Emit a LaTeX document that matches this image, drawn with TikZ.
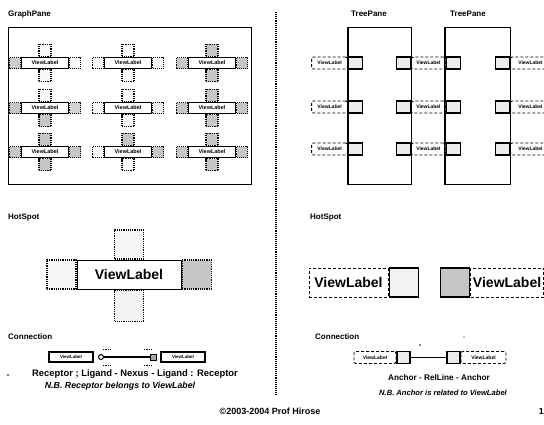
\documentclass[tikz,border=0pt]{standalone}
\usepackage{fontspec}
\setmainfont{Liberation Sans}
\begin{document}
\begin{tikzpicture}[x=1pt,y=-1pt,
  title/.style={font=\bfseries\fontsize{8}{9}\selectfont, inner sep=0pt},
  note/.style={font=\bfseries\fontsize{8.8}{9}\selectfont, inner sep=0pt},
  noteit/.style={font=\bfseries\itshape\fontsize{8.8}{9}\selectfont, inner sep=0pt},
  lbl/.style={draw, line width=1.1pt, fill=white, inner sep=0pt, minimum width=47pt, minimum height=11pt, font=\bfseries\fontsize{5.5}{6}\selectfont},
  hs/.style={draw, densely dotted, line width=1.1pt, inner sep=0pt, minimum width=11pt, minimum height=11pt},
  hsv/.style={draw, densely dotted, line width=1.1pt, inner sep=0pt, minimum width=12pt, minimum height=12pt},
  pane/.style={draw, line width=1pt, inner sep=0pt},
  dlbl/.style={draw, densely dashed, line width=0.9pt, rounded corners=2pt, fill=white, inner sep=0pt, minimum height=12pt, font=\bfseries\fontsize{5}{6}\selectfont},
  anc/.style={draw, line width=1.1pt, fill=gray!15, inner sep=0pt, minimum width=14pt, minimum height=12pt},
  biglbl/.style={draw, line width=1pt, fill=white, inner sep=0pt, minimum height=29pt, font=\bfseries\fontsize{14}{15}\selectfont},
  bighs/.style={draw, densely dotted, line width=1.2pt, inner sep=0pt, minimum width=29pt, minimum height=29pt},
]
\useasboundingbox (0,0) rectangle (544,424);

% ---------------- GraphPane ----------------
\node[title, anchor=west] (gptitle) at (8,14) {GraphPane};
\node[pane, minimum width=243pt, minimum height=157pt] (gp) at (129.5,105.5) {};

\foreach \cx/\cy/\l/\r/\t/\b [count=\i] in {
  45/63/40/5/5/5, 128/63/5/5/5/5, 212/63/45/45/45/45,
  45/108/45/35/5/45, 128/108/5/15/5/5, 212/108/45/45/45/45,
  45/152/45/45/45/45, 128/152/5/45/45/5, 212/152/45/45/45/45}{
  \node[lbl] (v\i) at (\cx,\cy) {ViewLabel};
  \node[hs, fill=gray!\l, anchor=east] (v\i l) at (v\i.west) {};
  \node[hs, fill=gray!\r, anchor=west] (v\i r) at (v\i.east) {};
  \node[hsv, fill=gray!\t, anchor=south] (v\i t) at (v\i.north) {};
  \node[hsv, fill=gray!\b, anchor=north] (v\i b) at (v\i.south) {};
}

% ---------------- divider ----------------
\coordinate (divtop) at (276,12);
\coordinate (divbot) at (276,395);
\draw[densely dotted, line width=1.1pt] (divtop) -- (divbot);

% ---------------- TreePanes ----------------
\node[title] (tpt1) at (369,14) {TreePane};
\node[title] (tpt2) at (468,14) {TreePane};
\node[pane, minimum width=63pt, minimum height=157pt] (tp1) at (379.5,105.5) {};
\node[pane, minimum width=65pt, minimum height=157pt] (tp2) at (477.5,105.5) {};

\foreach \y [count=\j] in {63,107,149}{
  % left of pane 1
  \node[anc, anchor=west] (a1\j) at (348,\y) {};
  \node[dlbl, minimum width=36pt, anchor=east] (l1\j) at (a1\j.west) {ViewLabel};
  % between panes
  \node[anc, anchor=east] (a2\j) at (411,\y) {};
  \node[dlbl, minimum width=34pt, anchor=west] (l2\j) at (a2\j.east) {ViewLabel};
  \node[anc, anchor=west] (a3\j) at (l2\j.east) {};
  % right of pane 2
  \node[anc, anchor=east] (a4\j) at (510,\y) {};
  \node[dlbl, minimum width=40pt, anchor=west] (l4\j) at (a4\j.east) {ViewLabel};
}
\draw[line width=1pt] (tp1.north west) -- (tp1.south west) (tp1.north east) -- (tp1.south east)
  (tp2.north west) -- (tp2.south west) (tp2.north east) -- (tp2.south east);

% ---------------- HotSpot (left) ----------------
\node[title, anchor=west] (hstitle1) at (8,218) {HotSpot};
\node[biglbl, minimum width=104pt] (hv) at (129,274.5) {ViewLabel};
\node[bighs, fill=gray!8, anchor=east] (hvl) at (hv.west) {};
\node[bighs, fill=gray!45, anchor=west] (hvr) at (hv.east) {};
\node[bighs, fill=gray!8, anchor=south] (hvt) at (hv.north) {};
\node[bighs, fill=gray!10, minimum height=31pt, anchor=north] (hvb) at (hv.south) {};

% ---------------- HotSpot (right) ----------------
\node[title, anchor=west] (hstitle2) at (310,218) {HotSpot};
\node[biglbl, densely dashed, minimum width=79pt] (rv1) at (348.5,282.5) {ViewLabel};
\node[bighs, solid, fill=gray!10, line width=1.2pt, anchor=west] (ra1) at (rv1.east) {};
\node[bighs, solid, fill=gray!45, line width=1.2pt] (ra2) at (455,282.5) {};
\node[biglbl, densely dashed, minimum width=73pt, anchor=west] (rv2) at (ra2.east) {ViewLabel};

% ---------------- Connection (left) ----------------
\node[title, anchor=west] (cntitle1) at (8,337) {Connection};
\node[lbl, minimum width=44pt, minimum height=10pt, font=\bfseries\fontsize{4.5}{5}\selectfont] (cv1) at (71,357) {ViewLabel};
\node[lbl, minimum width=44pt, minimum height=10pt, font=\bfseries\fontsize{4.5}{5}\selectfont] (cv2) at (183,357) {ViewLabel};
\node[circle, draw, line width=1pt, fill=white, inner sep=0pt, minimum size=5pt] (lig1) at (101,357) {};
\node[draw, fill=gray!70, line width=0.8pt, inner sep=0pt, minimum size=6pt] (lig2) at (153,357) {};
\draw[line width=1.2pt] (lig1) -- (lig2);
\coordinate (d1a) at (103,349); \coordinate (d1b) at (110,349);
\coordinate (d1c) at (103,365); \coordinate (d1d) at (110,365);
\coordinate (d2a) at (144,349); \coordinate (d2b) at (151,349);
\coordinate (d2c) at (144,365); \coordinate (d2d) at (151,365);
\draw[densely dotted, line width=0.7pt] (d1a) -- (d1b) (d1c) -- (d1d) (d2a) -- (d2b) (d2c) -- (d2d);
\fill (8,375) circle (0.9pt);
\node[note, font=\bfseries\fontsize{9.4}{10}\selectfont] (rl) at (135,374) {Receptor ; Ligand - Nexus - Ligand : Receptor};
\node[noteit] (rn) at (120,386) {N.B. Receptor belongs to ViewLabel};

% ---------------- Connection (right) ----------------
\node[title, anchor=west] (cntitle2) at (315,337) {Connection};
\node[anc, minimum width=13pt] (ca1) at (403.5,357.5) {};
\node[dlbl, minimum width=42pt, anchor=east] (cl1) at (ca1.west) {ViewLabel};
\node[anc, minimum width=13pt] (ca2) at (453.5,357.5) {};
\node[dlbl, minimum width=45pt, anchor=west] (cl2) at (ca2.east) {ViewLabel};
\draw[line width=1pt] (ca1) -- (ca2);
\fill (420,345) circle (0.8pt);
\fill (464,337) circle (0.6pt);
\node[note, font=\bfseries\fontsize{8.2}{9}\selectfont] (an) at (439,378) {Anchor - RelLine - Anchor};
\node[noteit, font=\bfseries\itshape\fontsize{7.6}{9}\selectfont] (ann) at (443,393) {N.B. Anchor is related to ViewLabel};

% ---------------- footer ----------------
\node[note, font=\bfseries\fontsize{9}{10}\selectfont] (foot) at (270,411) {©2003-2004 Prof Hirose};
\node[note, anchor=east] (page) at (544,411) {1};
\end{tikzpicture}
\end{document}
